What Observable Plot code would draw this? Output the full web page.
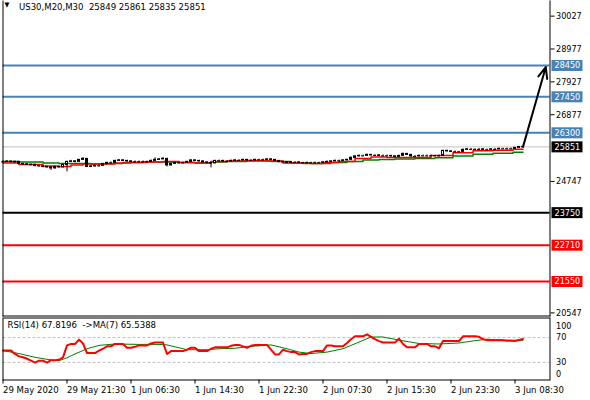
<!DOCTYPE html>
<html><head><meta charset="utf-8">
<script src="https://cdn.jsdelivr.net/npm/d3@7"></script>
<script src="https://cdn.jsdelivr.net/npm/@observablehq/plot@0.6"></script>
<style>
body{margin:0;background:#fff;}
#wrap{position:relative;width:590px;height:400px;overflow:hidden;background:#fff;}
#main,#rsi{position:absolute;left:0;}
#main{top:0;}
#rsi{top:317px;}
svg{display:block;}
</style></head><body>
<div id="wrap"><div id="main"></div><div id="rsi"></div></div>
<script>
// ---------- data ----------
const symbolTitle = "US30,M20,M30";
const lastOHLC = [25849, 25861, 25835, 25851];
const closes = [
25371,25380,25365,25371,25307,25291,25275,25280,25243,25227,
25211,25195,25163,25211,25195,25275,25371,25387,25371,25435,
25467,25211,25227,25243,25243,25307,25339,25339,25403,25419,
25403,25387,25371,25371,25371,25371,25371,25403,25435,25451,
25467,25259,25307,25339,25339,25339,25371,25419,25403,25387,
25355,25339,25323,25403,25403,25387,25387,25403,25419,25419,
25435,25419,25419,25435,25435,25435,25451,25435,25403,25371,
25355,25339,25355,25355,25339,25339,25339,25339,25339,25339,
25355,25371,25387,25403,25403,25419,25435,25499,25547,25563,
25563,25595,25579,25579,25563,25563,25563,25547,25531,25563,
25627,25595,25547,25547,25563,25563,25563,25563,25563,25563,
25723,25707,25691,25691,25691,25755,25771,25771,25771,25771,
25755,25755,25771,25771,25787,25787,25787,25787,25819,25849,
25851];
const highs = [
25410,25410,25400,25400,25380,25320,25310,25300,25290,25260,
25240,25230,25210,25230,25230,25290,25390,25420,25410,25450,
25510,25470,25250,25260,25270,25320,25360,25370,25420,25450,
25440,25420,25400,25400,25400,25400,25400,25430,25500,25480,
25510,25470,25330,25360,25370,25360,25390,25440,25430,25420,
25400,25370,25350,25420,25430,25420,25410,25430,25440,25440,
25460,25450,25440,25460,25460,25460,25470,25470,25450,25410,
25390,25370,25380,25380,25370,25360,25370,25360,25370,25360,
25380,25400,25410,25430,25430,25440,25460,25530,25570,25590,
25590,25620,25610,25600,25600,25590,25590,25580,25560,25580,
25650,25640,25600,25570,25590,25590,25590,25590,25580,25590,
25740,25740,25720,25720,25710,25780,25800,25800,25790,25800,
25790,25780,25790,25800,25810,25810,25810,25810,25830,25860,
25861];
const lows = [
25340,25350,25340,25340,25280,25260,25250,25250,25210,25200,
25180,25170,25100,25140,25170,25180,25051,25350,25340,25360,
25430,25190,25190,25200,25210,25230,25290,25310,25330,25390,
25380,25360,25350,25340,25350,25340,25350,25360,25400,25420,
25440,25211,25240,25290,25310,25310,25330,25360,25380,25360,
25330,25310,25180,25310,25380,25360,25360,25370,25390,25390,
25400,25400,25390,25400,25410,25410,25420,25410,25380,25340,
25330,25310,25320,25330,25310,25320,25310,25320,25310,25320,
25330,25340,25360,25380,25380,25390,25410,25420,25490,25530,
25540,25550,25560,25550,25540,25540,25540,25520,25500,25510,
25550,25580,25520,25520,25530,25540,25540,25540,25540,25530,
25550,25690,25670,25670,25670,25680,25740,25750,25750,25750,
25740,25730,25750,25750,25760,25770,25760,25770,25780,25810,
25835];
const maRedBars   = [0,8,12,16,18,22,26,30,34,38,42,46,50,54,58,64,68,72,78,82,86,90,94,98,104,110,115,120,125,130];
const maRedValues = [25339,25291,25243,25227,25275,25307,25307,25339,25355,25371,25387,25355,25339,25387,25403,25419,25403,25339,25323,25355,25387,25483,25531,25515,25515,25579,25660,25723,25739,25771];
const maGreenBars   = [0,8,12,16,20,24,28,32,38,42,46,50,54,58,64,70,74,80,84,88,92,96,100,106,110,115,120,125,130];
const maGreenValues = [25387,25371,25339,25323,25323,25307,25323,25355,25371,25371,25355,25339,25371,25387,25403,25387,25339,25323,25355,25387,25435,25451,25467,25483,25500,25560,25611,25643,25675];
const rsiValues = [
49,49,49,43.6,39.7,38.2,35.9,32.8,29.7,32.8,
32.8,29.7,33.5,33.5,34.3,38.2,57.4,59.7,59.7,66.7,
60.5,45.1,45.1,45.1,49,52,55.9,55.9,59.7,59.7,
59.7,53.6,53.6,55.1,57.4,57.4,57.4,60.5,62.1,62.1,
62.1,43.6,48.2,48.2,48.2,48.2,50.5,53.6,53.6,48.2,
48.2,48.2,52,54.3,54.3,54.3,54.3,56.7,58.2,58.2,
55.9,53.6,56.7,58.2,58.2,58.2,58.2,50.5,42.8,42.8,
50.5,48.2,46.6,46.6,42.8,43.6,43.6,46.6,48.2,48.2,
48.2,57.4,57.4,55.9,55.9,55.9,61.3,67.4,72.1,72.1,
72.1,75.2,71.3,67.4,64.4,62.1,62.1,62.1,62.1,68.2,
59.7,54.3,54.3,54.3,59.7,59.7,59.7,55.9,55.9,52.8,
64.4,64.4,64.4,64.4,64.4,72.1,72.1,72.1,72.1,71.3,
67.4,65.9,65.9,65.9,65.9,65.9,65.1,65.1,64.4,66,
67.8196];
const rsiMaBars   = [0,4,8,12,14,16,18,21,24,28,34,39,41,44,46,51,54,58,62,67,71,74,77,81,85,89,92,95,99,104,109,114,118,121,125,130];
const rsiMaValues = [49,44.3,38.2,33.9,32.8,37.4,43.6,52,57.4,59.7,59,59,58.2,53.6,50.5,50.5,52,52.8,55.9,58.2,52,46.6,44.3,46.6,52,62.8,71,71,65.9,60.5,59.7,61.3,65.1,67.4,65.9,65.5388];
const rsiLast = 67.8196, rsiMaLast = 65.5388;
const levelValues = [28450, 27450, 26300, 25851, 23750, 22710, 21550];
const levelKinds  = ["target","target","target","bid","pivot","support","support"];
const priceTicks = [30027, 28977, 27927, 26877, 25827, 24747, 23697, 22647, 21597, 20547];
const rsiTicks = [100, 70, 30, 0];
const rsiLevels = [70, 30];
const timeTickBars = [0,16,32,48,64,80,96,112,128];
const timeTickLabels = ["29 May 2020","29 May 21:30","1 Jun 06:30","1 Jun 14:30","1 Jun 22:30","2 Jun 07:30","2 Jun 15:30","2 Jun 23:30","3 Jun 08:30"];
const arrowFrom = [130, 25851];
const arrowTo = [135.7, 28400];

// ---------- styles ----------
const FONT = "'DejaVu Sans Condensed','DejaVu Sans',sans-serif";
const kindStyle = {
  target:  {line:"#4682B4", width:2, box:"#4682B4"},
  bid:     {line:"#C0C0C0", width:1, box:"#000000"},
  pivot:   {line:"#000000", width:2, box:"#000000"},
  support: {line:"#FF0000", width:2, box:"#FF0000"}
};
const boxSymbol = {draw(ctx){ ctx.rect(1.5, -5.5, 31, 11); }};

// ---------- build tables ----------
const bars = closes.map((c, i) => ({
  i, close: c, open: i === 0 ? c : closes[i-1], high: highs[i], low: lows[i]
}));
const maRed = maRedBars.map((b, k) => ({i: b, v: maRedValues[k]}));
const maGreen = maGreenBars.map((b, k) => ({i: b, v: maGreenValues[k]}));
const rsi = rsiValues.map((v, i) => ({i, v}));
const rsiMa = rsiMaBars.map((b, k) => ({i: b, v: rsiMaValues[k]}));
const levels = levelValues.map((v, k) => ({value: v, kind: levelKinds[k]}));
const kinds = ["bid","target","pivot","support"];
// axis tick labels that sit under a level's price box are not shown
const visibleTicks = priceTicks.filter(t => !levelValues.some(v => Math.abs(v - t) < 150));

const xScale = {type:"linear", domain:[0,130], range:[2.5,522.5], axis:null};

const levelLineMarks = kinds.map(k => Plot.ruleY(levels.filter(d => d.kind === k), {
  y: "value", stroke: kindStyle[k].line, strokeWidth: kindStyle[k].width
}));
const levelBoxMarks = kinds.map(k => Plot.dot(levels.filter(d => d.kind === k), {
  y: "value", frameAnchor: "right", symbol: boxSymbol, r: 5, fill: kindStyle[k].box, stroke: null
}));

const main = Plot.plot({
  width: 590, height: 317,
  marginLeft: 2.5, marginRight: 40.5, marginTop: 0.5, marginBottom: 1.5,
  x: xScale,
  y: {domain:[21550, 28450], range:[281, 65], axis:null},
  style: {fontFamily: FONT, fontSize: "9px", background: "white", color: "black"},
  marks: [
    ...levelLineMarks,
    Plot.line(maGreen, {x:"i", y:"v", stroke:"#008000", strokeWidth:1.5, curve:"step"}),
    Plot.line(maRed, {x:"i", y:"v", stroke:"#FF0000", strokeWidth:1.5, curve:"step"}),
    Plot.ruleX(bars, {x:"i", y1:"low", y2:"high", stroke:"black", strokeWidth:1}),
    Plot.rect(bars, {x1: d => d.i - 0.25, x2: d => d.i + 0.25,
      y1: "open", y2: "close", fill: d => d.close >= d.open ? "white" : "black", stroke:"black", strokeWidth:1}),
    Plot.ruleY(bars.filter(d => Math.abs(d.close - d.open) < 10), {
      y: "close", x1: d => d.i - 0.375, x2: d => d.i + 0.375, stroke:"black", strokeWidth:1}),
    Plot.arrow([{x1: arrowFrom[0], y1: arrowFrom[1], x2: arrowTo[0], y2: arrowTo[1]}], {
      x1:"x1", y1:"y1", x2:"x2", y2:"y2", stroke:"black", strokeWidth:2, headLength:9, headAngle:45, bend:0}),
    Plot.frame({anchor:"left", stroke:"black"}),
    Plot.frame({anchor:"right", stroke:"black"}),
    Plot.frame({anchor:"bottom", stroke:"black"}),
    Plot.axisY(visibleTicks, {anchor:"right", label:null, tickSize:4, tickPadding:2, tickFormat: d => String(d), fontSize:9}),
    ...levelBoxMarks,
    Plot.text(levels, {y:"value", text: d => String(d.value), frameAnchor:"right", textAnchor:"start", dx:4.5, fill:"white", fontSize:9}),
    Plot.text(["\u25BC"], {frameAnchor:"top-left", dx:1.5, dy:1.5, lineAnchor:"top", textAnchor:"start", fontSize:7}),
    Plot.text([symbolTitle + "  " + lastOHLC.join(" ")], {frameAnchor:"top-left", dx:16, dy:2, lineAnchor:"top", textAnchor:"start", fontSize:9.5, fill:"black"})
  ],
  color: {type:"identity"}
});
document.getElementById("main").appendChild(main);

const rsiPlot = Plot.plot({
  width: 590, height: 83,
  marginLeft: 2.5, marginRight: 40.5, marginTop: 0.5, marginBottom: 20.5,
  x: xScale,
  y: {domain:[0,100], range:[63.5, 1.5], axis:null},
  style: {fontFamily: FONT, fontSize: "9px", background: "white", color: "black"},
  marks: [
    Plot.ruleY(rsiLevels, {stroke:"#C0C0C0", strokeDasharray:"3,2"}),
    Plot.line(rsiMa, {x:"i", y:"v", stroke:"#008000", strokeWidth:1}),
    Plot.line(rsi, {x:"i", y:"v", stroke:"#FF0000", strokeWidth:2}),
    Plot.frame({stroke:"black"}),
    Plot.axisX(timeTickBars, {anchor:"bottom", label:null, tickSize:4, tickPadding:2, textAnchor:"start",
      tickFormat: d => timeTickLabels[timeTickBars.indexOf(d)], fontSize:9.5}),
    Plot.text(rsiTicks.filter(t => t === 100), {y: d => d, text: d => String(d), frameAnchor:"right", textAnchor:"start", dx:6, dy:7, fontSize:9}),
    Plot.text(rsiTicks.filter(t => t === 70 || t === 30), {y: d => d, text: d => String(d), frameAnchor:"right", textAnchor:"start", dx:6, fontSize:9}),
    Plot.text(rsiTicks.filter(t => t === 0), {y: d => d, text: d => String(d), frameAnchor:"right", textAnchor:"start", dx:6, dy:-7, fontSize:9}),
    Plot.text(["RSI(14) " + rsiLast.toFixed(4) + "  ->MA(7) " + rsiMaLast.toFixed(4)], {frameAnchor:"top-left", dx:4.5, dy:3.5, lineAnchor:"top", textAnchor:"start", fontSize:9.5})
  ]
});
document.getElementById("rsi").appendChild(rsiPlot);
</script>
</body></html>
